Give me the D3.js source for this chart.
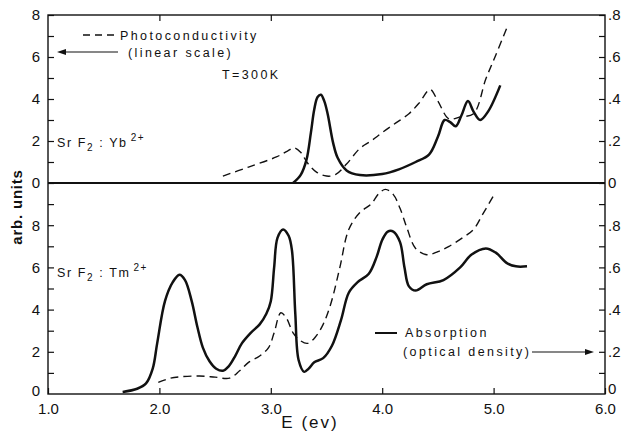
<!DOCTYPE html>
<html><head><meta charset="utf-8">
<script src="https://cdn.jsdelivr.net/npm/d3@7"></script>
<style>
body{margin:0;background:#fff;}
svg{display:block;font-family:"Liberation Sans",Arial,sans-serif;}
.tick text{font-size:15px;fill:#111;}
.lbl{font-size:12.5px;fill:#111;letter-spacing:2.4px;}
</style></head><body>
<svg id="c" width="621" height="436"></svg>
<script>
// ---- data ----
const xTickValues = [1, 2, 3, 4, 5, 6];
const xTickLabels = ["1.0", "2.0", "3.0", "4.0", "5.0", "6.0"];
const leftTickLabels = ["0", "2", "4", "6", "8"];
const rightTickLabels = ["0", ".2", ".4", ".6", ".8"];

// top panel (SrF2:Yb2+): photoconductivity, left scale (0-8)
const ybPhotoE = [2.57,2.8,3.05,3.15,3.21,3.27,3.33,3.41,3.5,3.58,3.68,3.8,3.9,4.0,4.12,4.24,4.33,4.43,4.5,4.6,4.7,4.82,4.93,5.02,5.12];
const ybPhotoV = [0.33,0.76,1.24,1.52,1.67,1.45,0.95,0.52,0.33,0.4,0.9,1.65,2.0,2.4,2.85,3.3,3.8,4.45,3.9,3.05,3.15,3.3,4.95,6.1,7.4];
// top panel absorption, right scale (optical density 0-0.8)
const ybAbsE = [3.2,3.27,3.32,3.36,3.39,3.42,3.45,3.48,3.51,3.56,3.6,3.68,3.8,4.0,4.15,4.3,4.42,4.5,4.56,4.61,4.66,4.71,4.77,4.82,4.88,4.95,5.06];
const ybAbsV = [0,0.04,0.11,0.24,0.35,0.41,0.42,0.39,0.33,0.19,0.12,0.06,0.038,0.043,0.065,0.1,0.135,0.22,0.3,0.29,0.27,0.32,0.39,0.34,0.30,0.34,0.465];

// bottom panel (SrF2:Tm2+): photoconductivity, left scale (0-10)
const tmPhotoE = [1.99,2.1,2.2,2.36,2.5,2.63,2.72,2.8,2.9,2.98,3.03,3.09,3.14,3.2,3.26,3.33,3.4,3.47,3.54,3.62,3.7,3.8,3.9,3.97,4.03,4.1,4.16,4.22,4.3,4.4,4.5,4.6,4.72,4.82,4.9,5.0];
const tmPhotoV = [0.55,0.75,0.82,0.85,0.8,0.75,1.1,1.5,1.8,2.2,2.9,3.85,3.6,2.9,2.55,2.4,2.7,3.3,4.3,6.0,7.8,8.6,9.0,9.5,9.7,9.45,8.8,7.9,6.9,6.6,6.75,7.0,7.4,7.8,8.5,9.4];
// bottom panel absorption, right scale (optical density 0-1.0)
const tmAbsE = [1.67,1.8,1.88,1.94,1.98,2.05,2.12,2.18,2.23,2.29,2.34,2.39,2.45,2.51,2.57,2.62,2.68,2.74,2.82,2.9,2.96,3.0,3.03,3.06,3.11,3.16,3.19,3.22,3.25,3.3,3.34,3.39,3.47,3.55,3.63,3.7,3.78,3.88,3.95,4.0,4.05,4.1,4.16,4.2,4.24,4.3,4.4,4.55,4.7,4.8,4.93,5.02,5.12,5.2,5.3];
const tmAbsV = [0.01,0.025,0.05,0.12,0.24,0.44,0.53,0.565,0.54,0.44,0.32,0.22,0.155,0.12,0.11,0.13,0.18,0.24,0.29,0.33,0.38,0.44,0.6,0.74,0.78,0.75,0.68,0.38,0.16,0.105,0.12,0.15,0.17,0.23,0.35,0.48,0.53,0.57,0.65,0.73,0.77,0.77,0.72,0.6,0.51,0.49,0.52,0.54,0.6,0.66,0.69,0.67,0.62,0.605,0.605];

// ---- layout ----
const svg = d3.select("#c");
const L = 48, R = 605, T = 15, M = 183, B = 394;
const x = d3.scaleLinear().domain([1, 6]).range([L, R]);
const yTopL = d3.scaleLinear().domain([0, 8]).range([M, T]);
const yTopR = d3.scaleLinear().domain([0, 0.8]).range([M, T]);
const yBotL = d3.scaleLinear().domain([0, 10]).range([B, M]);
const yBotR = d3.scaleLinear().domain([0, 1.0]).range([B, M]);

const axG = svg.append("g");
function styleAxis(g){ g.select(".domain").remove(); g.selectAll(".tick line").attr("stroke","#111").attr("stroke-width",1.2); }

// left axes
axG.append("g").attr("transform",`translate(${L},0)`)
  .call(d3.axisLeft(yTopL).tickValues(d3.range(0,9)).tickSizeInner(-6).tickSizeOuter(0).tickPadding(8)
    .tickFormat(d => d % 2 === 0 ? leftTickLabels[d/2] : "")).call(styleAxis);
axG.append("g").attr("transform",`translate(${L},0)`)
  .call(d3.axisLeft(yBotL).tickValues(d3.range(1,10)).tickSizeInner(-6).tickSizeOuter(0).tickPadding(8)
    .tickFormat(d => d % 2 === 0 ? leftTickLabels[d/2] : "")).call(styleAxis);
axG.append("g").attr("transform",`translate(${L},0)`)
  .call(d3.axisLeft(yBotL).tickValues([0]).tickSize(0).tickPadding(8).tickFormat(() => leftTickLabels[0]))
  .call(styleAxis).selectAll("text").attr("dy","0.1em");
// right axes
const rTop = d3.range(0,9).map(i => i/10);
axG.append("g").attr("transform",`translate(${R},0)`)
  .call(d3.axisRight(yTopR).tickValues(rTop).tickSizeInner(-6).tickSizeOuter(0).tickPadding(3)
    .tickFormat((d,i) => i % 2 === 0 ? rightTickLabels[i/2] : "")).call(styleAxis);
const rBot = d3.range(1,10).map(i => i/10);
axG.append("g").attr("transform",`translate(${R},0)`)
  .call(d3.axisRight(yBotR).tickValues(rBot).tickSizeInner(-6).tickSizeOuter(0).tickPadding(3)
    .tickFormat((d,i) => (i+1) % 2 === 0 ? rightTickLabels[(i+1)/2] : "")).call(styleAxis);
axG.append("g").attr("transform",`translate(${R},0)`)
  .call(d3.axisRight(yBotR).tickValues([0]).tickSize(0).tickPadding(3).tickFormat(() => rightTickLabels[0]))
  .call(styleAxis).selectAll("text").attr("dy","-0.05em");
// x axes
axG.append("g").attr("transform",`translate(0,${B})`)
  .call(d3.axisBottom(x).tickValues(xTickValues).tickSizeInner(-6).tickSizeOuter(0).tickPadding(9)
    .tickFormat((d,i) => xTickLabels[i])).call(styleAxis);
axG.append("g").attr("transform",`translate(0,${T})`)
  .call(d3.axisTop(x).tickValues(xTickValues.slice(1,5)).tickSizeInner(-6).tickSizeOuter(0).tickFormat(() => "")).call(styleAxis);

// frame + divider
svg.append("rect").attr("x",L).attr("y",T).attr("width",R-L).attr("height",B-T)
  .attr("fill","none").attr("stroke","#111").attr("stroke-width",1.4);
svg.append("line").attr("x1",L).attr("x2",R).attr("y1",M).attr("y2",M).attr("stroke","#111").attr("stroke-width",2);

// curves
function draw(E, V, ys, dashed){
  const line = d3.line().x(d => x(d[0])).y(d => ys(d[1])).curve(d3.curveCatmullRom.alpha(0.5));
  svg.append("path").datum(E.map((e,i)=>[e,V[i]])).attr("d",line).attr("fill","none")
    .attr("stroke","#111").attr("stroke-width", dashed ? 1.4 : 2.5)
    .attr("stroke-dasharray", dashed ? "8,5" : null).attr("stroke-linejoin","round");
}
draw(ybPhotoE, ybPhotoV, yTopL, true);
draw(ybAbsE, ybAbsV, yTopR, false);
draw(tmPhotoE, tmPhotoV, yBotL, true);
draw(tmAbsE, tmAbsV, yBotR, false);

// texts / legends
function txt(xp, yp, s, cls){ return svg.append("text").attr("x",xp).attr("y",yp).attr("class",cls||"lbl").text(s); }
svg.append("line").attr("x1",83).attr("x2",116).attr("y1",35).attr("y2",35).attr("stroke","#111").attr("stroke-width",1.3).attr("stroke-dasharray","7,5");
txt(120, 40, "Photoconductivity");
txt(128, 57, "(linear scale)");
svg.append("line").attr("x1",118).attr("x2",64).attr("y1",52).attr("y2",52).attr("stroke","#111").attr("stroke-width",1.2);
svg.append("path").attr("d","M57,52 L66,49 L66,55 Z").attr("fill","#111");
txt(222, 79, "T=300K");

function formula(xp, yp, ion){
  const t = svg.append("text").attr("x",xp).attr("y",yp).attr("class","lbl").style("letter-spacing","1.6px");
  t.append("tspan").text("Sr F");
  t.append("tspan").attr("dy",4).style("font-size","10px").text("2");
  t.append("tspan").attr("dy",-4).text(" : " + ion);
  t.append("tspan").attr("dy",-6).attr("dx",3).style("font-size","10px").text("2+");
}
formula(57, 147, "Yb");
formula(57, 277, "Tm");

svg.append("line").attr("x1",375).attr("x2",397).attr("y1",333).attr("y2",333).attr("stroke","#111").attr("stroke-width",2);
txt(405, 337, "Absorption");
txt(403, 356, "(optical density)");
svg.append("line").attr("x1",532).attr("x2",586).attr("y1",352).attr("y2",352).attr("stroke","#111").attr("stroke-width",1.2);
svg.append("path").attr("d","M594,352 L585,349 L585,355 Z").attr("fill","#111");

svg.append("text").attr("transform","translate(22,207) rotate(-90)").attr("text-anchor","middle")
  .style("font-size","15px").style("font-weight","bold").style("letter-spacing","0.8px").attr("fill","#111").text("arb. units");
svg.append("text").attr("x",310).attr("y",428).attr("text-anchor","middle")
  .style("font-size","17px").style("letter-spacing","2px").attr("fill","#111").text("E (ev)");
</script></body></html>
